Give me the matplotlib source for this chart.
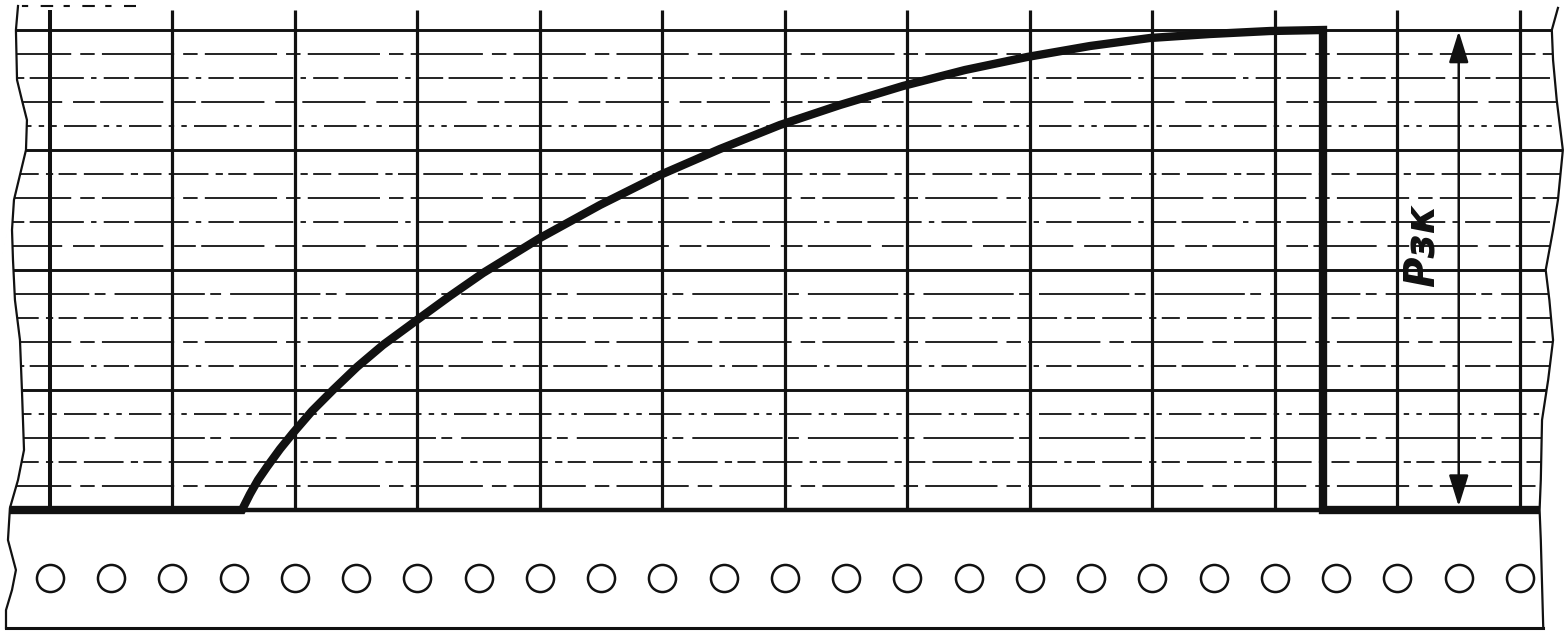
import matplotlib
matplotlib.use("Agg")
import matplotlib.pyplot as plt
from matplotlib.path import Path
from matplotlib.patches import PathPatch, FancyArrowPatch, ArrowStyle

# ---- chart data (grid units: x = chart divisions, y = pressure divisions) ----
vgrid_u = [0, 1, 2, 3, 4, 5, 6, 7, 8, 9, 10, 11, 12]
hgrid_v = list(range(0, 21))
major_v = [0, 5, 10, 15, 20]

curve_u = [-0.33, 1.567, 1.633, 1.698, 1.771, 1.878, 1.984, 2.139, 2.310, 2.506,
           2.718, 2.996, 3.265, 3.535, 4.0, 4.490, 4.980, 5.469, 5.959, 6.449,
           6.963, 7.469, 7.976, 8.490, 8.980, 9.469, 9.959, 10.392, 10.392, 12.16]
curve_v = [0.0, 0.0, 0.667, 1.25, 1.792, 2.542, 3.208, 4.125, 5.0, 5.958,
           6.875, 7.917, 8.917, 9.875, 11.333, 12.708, 13.958, 15.042, 16.042, 16.875,
           17.667, 18.333, 18.875, 19.333, 19.667, 19.833, 19.958, 20.0, 0.0, 0.0]

hole_u = [0, 0.5, 1, 1.5, 2, 2.5, 3, 3.5, 4, 4.5, 5, 5.5, 6, 6.5, 7, 7.5,
          8, 8.5, 9, 9.5, 10, 10.5, 11, 11.5, 12]
hole_v = -2.83

left_edge_u = [-0.261, -0.278, -0.269, -0.229, -0.188, -0.196, -0.245, -0.294, -0.310,
               -0.302, -0.286, -0.245, -0.229, -0.212, -0.261, -0.327, -0.343, -0.278,
               -0.310, -0.359, -0.359]
left_edge_v = [21.0, 20, 17.92, 17.08, 16.25, 15, 13.96, 12.92, 11.67,
               10.42, 8.75, 7.08, 5, 2.5, 1.25, 0.08, -1.25, -2.5,
               -3.33, -4.17, -4.92]
right_edge_u = [12.31, 12.26, 12.27, 12.30, 12.35, 12.31, 12.27, 12.21, 12.24,
                12.27, 12.23, 12.18, 12.17, 12.16, 12.17, 12.19]
right_edge_v = [20.92, 20, 18.75, 17.08, 15, 12.92, 11.67, 10, 8.75,
                7.08, 5.42, 3.75, 1.25, 0, -1.25, -4.92]
bottom_v = -4.92

label_text = "Рзк"
label_u, label_v = 11.20, 11.0
arrow_u = 11.50
arrow_v0, arrow_v1 = 0.15, 19.95

# ---- figure ----
fig = plt.figure(figsize=(15.68, 6.35), dpi=100)
ax = fig.add_axes([0, 0, 1, 1])
ax.set_xlim(-0.408, 12.392)
ax.set_ylim(-5.208, 21.25)
ax.axis("off")
fig.patch.set_facecolor("white")

ink = "#111111"

# clip region = paper shape
verts = list(zip(left_edge_u, left_edge_v)) + list(zip(right_edge_u[::-1], right_edge_v[::-1]))
verts = [(left_edge_u[0], 21.3)] + verts + [(right_edge_u[0], 21.3), (left_edge_u[0], 21.3)]
codes = [Path.MOVETO] + [Path.LINETO] * (len(verts) - 2) + [Path.CLOSEPOLY]
clip = PathPatch(Path(verts, codes), facecolor="none", edgecolor="none")
ax.add_patch(clip)

dash_styles = [(0, (14, 3, 30, 4, 3, 4)), (0, (40, 5, 8, 4)), (0, (22, 4, 4, 3, 10, 4)),
               (0, (50, 3, 6, 5)), (0, (18, 4, 3, 4, 3, 4)), (0, (35, 6, 12, 3))]

lines = []
for i, v in enumerate(hgrid_v):
    if v in major_v:
        if v == 0:
            continue
        ln, = ax.plot([-0.5, 12.5], [v, v], color=ink, lw=2.1, solid_capstyle="butt")
    else:
        ln, = ax.plot([-0.5, 12.5], [v, v], color=ink, lw=1.3,
                      linestyle=dash_styles[i % len(dash_styles)])
    lines.append(ln)
# top partial dashed line
ln, = ax.plot([-0.5, 0.7], [21, 21], color=ink, lw=1.5, linestyle=(0, (6, 5, 3, 6)))
lines.append(ln)
for ln in lines:
    ln.set_clip_path(clip)

# vertical grid lines
for u in vgrid_u:
    ax.plot([u, u], [0, 20.85], color=ink, lw=2.9 if u == 0 else 2.3,
            solid_capstyle="butt")

# base line of the chart
ax.plot([left_edge_u[15], right_edge_u[13]], [0, 0], color=ink, lw=3.2,
        solid_capstyle="butt")

# recorded curve
ax.plot(curve_u, curve_v, color=ink, lw=6.0, solid_joinstyle="miter",
        solid_capstyle="butt", zorder=5)

# paper edges
ax.plot(left_edge_u, left_edge_v, color=ink, lw=1.6)
ax.plot(right_edge_u, right_edge_v, color=ink, lw=1.6)
ax.plot([left_edge_u[-1], right_edge_u[-1]], [bottom_v, bottom_v], color=ink, lw=2.2)

# perforation holes
ax.plot(hole_u, [hole_v] * len(hole_u), linestyle="none", marker="o",
        markersize=19.5, markerfacecolor="white", markeredgecolor=ink,
        markeredgewidth=1.8)

# dimension arrow
arr = FancyArrowPatch((arrow_u, arrow_v0), (arrow_u, arrow_v1),
                      arrowstyle=ArrowStyle("<|-|>", head_length=1.6, head_width=0.5),
                      mutation_scale=12, color=ink, lw=1.8, shrinkA=0, shrinkB=0, zorder=6)
ax.add_patch(arr)

# label
ax.text(label_u, label_v, label_text, rotation=90, ha="center", va="center",
        fontsize=30, fontstyle="italic", fontweight="bold", color=ink,
        family="DejaVu Sans", zorder=7)

fig.savefig("out.png", dpi=100, facecolor="white")
